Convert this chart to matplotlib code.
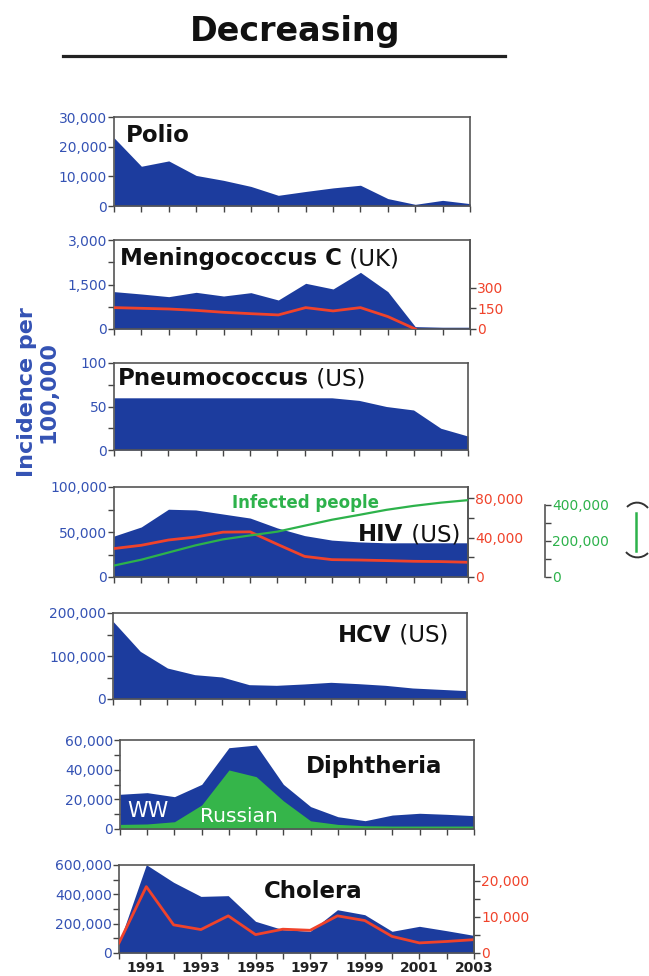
import matplotlib
matplotlib.use('Agg')
import matplotlib.pyplot as plt
import numpy as np
from matplotlib.lines import Line2D
from matplotlib.path import Path
from matplotlib.patches import PathPatch
import matplotlib.transforms as mtransforms

plt.rcParams['font.family'] = ['DejaVu Sans']

# ---------------- data ----------------
years = list(range(1990, 2004))
xtick_labels = ['', '1991', '', '1993', '', '1995', '', '1997', '', '1999', '', '2001', '', '2003']

polio = [23000, 13400, 15200, 10300, 8650, 6600, 3600, 4900, 6100, 7000, 2500, 560, 1900, 800]

mening_cases = [1260, 1180, 1090, 1236, 1112, 1225, 978, 1540, 1350, 1910, 1260, 80, 60, 60]
mening_deaths = [155, 150, 145, 135, 121, 111, 102, 155, 131, 155, 90, 0, np.nan, np.nan]

pneumo = [60, 60, 60, 60, 60, 60, 60, 60, 60, 57, 50, 46, 25, 16]

hiv_cases = [45500, 55600, 75300, 74500, 70000, 65500, 54500, 46000, 41000, 39000, 38000, 38000, 38000, 38000]
hiv_deaths = [29000, 32300, 37700, 40700, 45700, 46000, 33300, 21000, 17700, 17300, 16700, 16000, 15700, 15000]
hiv_infected = [63600, 96000, 136000, 176000, 209000, 231000, 252000, 285000, 318000, 345000, 373000, 395000, 413000, 427000]

hcv = [180600, 110900, 72000, 56600, 51200, 33300, 31800, 34900, 38800, 35700, 31800, 25600, 22500, 19400]

diph_ww = [23400, 24500, 21800, 30100, 54800, 56600, 30100, 15100, 8300, 5600, 9400, 10600, 9900, 9000]
diph_russia = [3100, 3400, 4900, 16200, 39800, 35300, 19000, 5500, 3100, 2200, 2000, 2000, 2000, 2000]

cholera_cases = [68000, 602000, 482000, 386000, 391000, 216000, 159000, 148000, 295000, 261000, 148000, 182000, 152000, 120000]
cholera_deaths = [2800, 18400, 7800, 6500, 10300, 5100, 6600, 6300, 10300, 9000, 4600, 2800, 3200, 3700]

polio_ticks = [0, 10000, 20000, 30000]
polio_labels = ['0', '10,000', '20,000', '30,000']
mening_ticks = [0, 1500, 3000]
mening_labels = ['0', '1,500', '3,000']
mening_rticks = [0, 150, 300]
mening_rlabels = ['0', '150', '300']
pneumo_ticks = [0, 50, 100]
pneumo_labels = ['0', '50', '100']
hiv_ticks = [0, 50000, 100000]
hiv_labels = ['0', '50,000', '100,000']
hiv_rticks = [0, 40000, 80000]
hiv_rlabels = ['0', '40,000', '80,000']
hiv_gticks = [0, 200000, 400000]
hiv_glabels = ['0', '200,000', '400,000']
hcv_ticks = [0, 100000, 200000]
hcv_labels = ['0', '100,000', '200,000']
diph_ticks = [0, 20000, 40000, 60000]
diph_labels = ['0', '20,000', '40,000', '60,000']
chol_ticks = [0, 200000, 400000, 600000]
chol_labels = ['0', '200,000', '400,000', '600,000']
chol_rticks = [0, 10000, 20000]
chol_rlabels = ['0', '10,000', '20,000']

# ---------------- style ----------------
BLUE = '#1c3c9e'
BLUE_TXT = '#3452b4'
RED = '#f0432b'
GREEN = '#2db24b'
GREEN_FILL = '#35b54a'
SPINE = '#555555'
TICK = '#444444'

W, H = 649, 976
fig = plt.figure(figsize=(W / 100, H / 100), dpi=100)
pix = mtransforms.Affine2D().scale(1 / W, -1 / H).translate(0, 1) + fig.transFigure


def rect(l, r, t, b):
    return [l / W, 1 - b / H, (r - l) / W, (b - t) / H]


def setup(ax, ylim, ticks, labels, minor=None, show_x=False):
    ax.set_xlim(1990, 2003)
    ax.set_ylim(*ylim)
    ax.set_xticks(years)
    if show_x:
        ax.set_xticklabels(xtick_labels, fontsize=10, fontweight='bold', color='#222222')
    else:
        ax.set_xticklabels([])
    ax.set_yticks(ticks)
    ax.set_yticklabels(labels)
    if minor is not None:
        ax.set_yticks(minor, minor=True)
    ax.tick_params(axis='both', which='both', direction='out', length=4, width=1, color=TICK)
    ax.tick_params(axis='y', labelcolor=BLUE_TXT, labelsize=10, pad=1)
    ax.tick_params(axis='x', pad=2)
    for s in ax.spines.values():
        s.set_color(SPINE)
        s.set_linewidth(1.2)


def twin_axis(ax, ylim, ticks, labels, color, minor=None):
    a2 = ax.twinx()
    a2.set_xlim(1990, 2003)
    a2.set_ylim(*ylim)
    a2.set_yticks(ticks)
    a2.set_yticklabels(labels)
    if minor is not None:
        a2.set_yticks(minor, minor=True)
    a2.tick_params(axis='y', which='both', direction='out', length=4, width=1, color=TICK,
                   labelcolor=color, labelsize=10, pad=1)
    for k in ['left', 'top', 'bottom']:
        a2.spines[k].set_visible(False)
    a2.spines['right'].set_color(SPINE)
    a2.spines['right'].set_linewidth(1.2)
    a2.patch.set_visible(False)
    return a2


renderer = fig.canvas.get_renderer()


def label(x, y, parts, ha='left', size=16.5):
    """parts: list of (text, weight); x,y in image pixels (baseline)."""
    if ha == 'left':
        cur = x
        for txt, wt in parts:
            t = fig.text(cur / W, 1 - y / H, txt, fontsize=size, fontweight=wt, ha='left',
                         va='baseline', color='#111111', zorder=20)
            bb = t.get_window_extent(renderer)
            cur += bb.width
    elif ha == 'right':
        cur = x
        for txt, wt in reversed(parts):
            t = fig.text(cur / W, 1 - y / H, txt, fontsize=size, fontweight=wt, ha='right',
                         va='baseline', color='#111111', zorder=20)
            bb = t.get_window_extent(renderer)
            cur -= bb.width
    else:
        fig.text(x / W, 1 - y / H, parts[0][0], fontsize=size, fontweight=parts[0][1],
                 ha='center', va='baseline', color='#111111', zorder=20)


# ---------------- title ----------------
fig.text(295 / W, 1 - 41 / H, 'Decreasing', fontsize=24, fontweight='bold', ha='center',
         va='baseline', color='#111111')
fig.add_artist(Line2D([62.5, 505], [56, 56], transform=pix, color='#222222', lw=2.3))

# ---------------- Polio ----------------
ax = fig.add_axes(rect(114, 470, 117, 206))
setup(ax, (0, 30000), polio_ticks, polio_labels)
ax.fill_between(years, 0, polio, color=BLUE, lw=0)
label(126, 142, [('Polio', 'bold')])

# ---------------- Meningococcus ----------------
ax = fig.add_axes(rect(114, 470, 240, 329))
setup(ax, (0, 3000), mening_ticks, mening_labels, minor=[750, 2250])
ax.fill_between(years, 0, mening_cases, color=BLUE, lw=0)
a2 = twin_axis(ax, (0, 645), mening_rticks, mening_rlabels, RED)
a2.plot(years, mening_deaths, color=RED, lw=2.0)
label(120, 265, [('Meningococcus C', 'bold'), (' (UK)', 'normal')])

# ---------------- Pneumococcus ----------------
ax = fig.add_axes(rect(114, 468, 363, 450))
setup(ax, (0, 100), pneumo_ticks, pneumo_labels, minor=[25, 75])
ax.fill_between(years, 0, pneumo, color=BLUE, lw=0)
label(118, 385, [('Pneumococcus', 'bold'), (' (US)', 'normal')])

# ---------------- HIV ----------------
ax = fig.add_axes(rect(114, 468, 487, 577))
setup(ax, (0, 100000), hiv_ticks, hiv_labels, minor=[25000, 75000])
ax.fill_between(years, 0, hiv_cases, color=BLUE, lw=0)
a2 = twin_axis(ax, (0, 91700), hiv_rticks, hiv_rlabels, RED, minor=[20000, 60000])
a2.plot(years, hiv_deaths, color=RED, lw=2.0)
a3 = twin_axis(ax, (0, 500000), hiv_gticks, hiv_glabels, GREEN, minor=[100000, 300000])
a3.spines['right'].set_position(('axes', (545 - 114) / (468 - 114)))
a3.spines['right'].set_bounds(0, 400000)
a3.plot(years, hiv_infected, color=GREEN, lw=1.6)
fig.text(232 / W, 1 - 508 / H, 'Infected people', fontsize=12, fontweight='bold', color=GREEN,
         ha='left', va='baseline', zorder=20)
label(460, 541, [('HIV', 'bold'), (' (US)', 'normal')], ha='right')
# bracket decoration
top = Path([(627, 507), (633, 501), (642, 501), (648, 508)],
           [Path.MOVETO, Path.CURVE4, Path.CURVE4, Path.CURVE4])
bot = Path([(626, 552), (632, 559), (642, 559), (648, 553)],
           [Path.MOVETO, Path.CURVE4, Path.CURVE4, Path.CURVE4])
fig.add_artist(PathPatch(top, transform=pix, fill=False, ec='#333333', lw=1.4))
fig.add_artist(PathPatch(bot, transform=pix, fill=False, ec='#333333', lw=1.4))
fig.add_artist(Line2D([636, 636], [513, 551], transform=pix, color=GREEN, lw=1.8))

# ---------------- HCV ----------------
ax = fig.add_axes(rect(113, 467, 613, 699))
setup(ax, (0, 200000), hcv_ticks, hcv_labels, minor=[50000, 150000])
ax.fill_between(years, 0, hcv, color=BLUE, lw=0)
label(448, 642, [('HCV', 'bold'), (' (US)', 'normal')], ha='right')

# ---------------- Diphtheria ----------------
ax = fig.add_axes(rect(120, 474, 740, 829))
setup(ax, (0, 60000), diph_ticks, diph_labels, minor=[10000, 30000, 50000])
ax.fill_between(years, 0, diph_ww, color=BLUE, lw=0)
ax.fill_between(years, 0, diph_russia, color=GREEN_FILL, lw=0)
label(374.5, 773, [('Diphtheria', 'bold')], ha='center')
fig.text(148 / W, 1 - 817 / H, 'WW', fontsize=15, color='white', ha='center', va='baseline', zorder=20)
fig.text(239 / W, 1 - 822 / H, 'Russian', fontsize=14.5, color='white', ha='center', va='baseline', zorder=20)

# ---------------- Cholera ----------------
ax = fig.add_axes(rect(119, 474, 865, 953))
setup(ax, (0, 600000), chol_ticks, chol_labels, minor=[100000, 300000, 500000], show_x=True)
ax.fill_between(years, 0, cholera_cases, color=BLUE, lw=0)
a2 = twin_axis(ax, (0, 24400), chol_rticks, chol_rlabels, RED, minor=[5000, 15000])
a2.plot(years, cholera_deaths, color=RED, lw=2.0)
label(313, 898, [('Cholera', 'bold')], ha='center')

# ---------------- y label ----------------
fig.text(38 / W, 1 - 392 / H, 'Incidence per\n100,000', rotation=90, fontsize=16,
         fontweight='bold', color=BLUE_TXT, ha='center', va='center', multialignment='center',
         linespacing=1.1)

fig.savefig('out.png', dpi=100)
